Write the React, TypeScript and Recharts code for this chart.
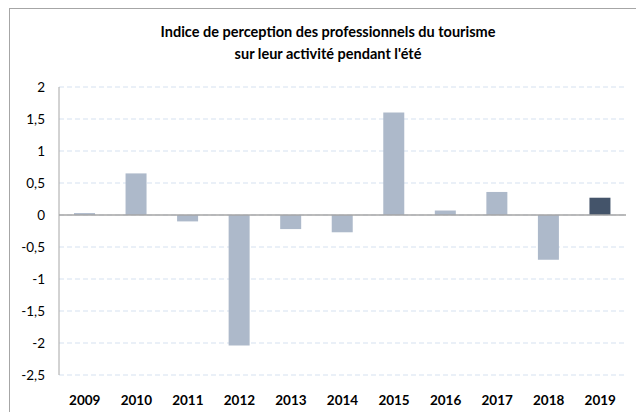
import { Bar, BarChart, CartesianGrid, Cell, ReferenceLine, XAxis, YAxis } from 'recharts';

const years = ['2009', '2010', '2011', '2012', '2013', '2014', '2015', '2016', '2017', '2018', '2019'];
const perceptionIndex = [0.03, 0.65, -0.1, -2.04, -0.22, -0.27, 1.6, 0.07, 0.36, -0.7, 0.27];
const yTicks = [-2.5, -2, -1.5, -1, -0.5, 0, 0.5, 1, 1.5, 2];
const titleLines = ['Indice de perception des professionnels du tourisme', "sur leur activité pendant l'été"];

const chartData = years.map((year, i) => ({ year, value: perceptionIndex[i] }));

const font = 'Lato, "DejaVu Sans", sans-serif';

export default function App() {
  return (
    <div
      style={{
        position: 'absolute',
        left: 0,
        top: 0,
        width: 636,
        height: 412,
        overflow: 'hidden',
        background: '#fff',
        fontFamily: font,
      }}
    >
      <div
        style={{
          position: 'absolute',
          left: 9,
          top: 8,
          width: 660,
          height: 440,
          border: '1px solid #a6a6a6',
        }}
      />
      <div
        style={{
          position: 'absolute',
          left: 0,
          top: 21,
          width: 656,
          textAlign: 'center',
          fontWeight: 700,
          fontSize: 14.5,
          lineHeight: '22px',
          color: '#000',
        }}
      >
        {titleLines.map((line) => (
          <div key={line}>{line}</div>
        ))}
      </div>
      <div style={{ position: 'absolute', left: 0, top: 0 }}>
        <BarChart width={636} height={412} data={chartData} margin={{ top: 87, right: 10, bottom: 7, left: 9 }}>
          <CartesianGrid vertical={false} stroke="#d5e1f0" strokeDasharray="5 3" />
          <XAxis
            dataKey="year"
            axisLine={false}
            tickLine={false}
            tickSize={0}
            tickMargin={20}
            height={30}
            interval={0}
            tick={{ fill: '#000', fontSize: 13.5, fontWeight: 700, fontFamily: font }}
          />
          <YAxis
            domain={[-2.5, 2]}
            ticks={yTicks}
            width={50}
            interval={0}
            tickLine={false}
            tickSize={0}
            tickMargin={14}
            axisLine={{ stroke: '#a6a6a6' }}
            tickFormatter={(v: number) => String(v).replace('.', ',')}
            tick={{ fill: '#000', fontSize: 13.5, fontFamily: font }}
          />
          <ReferenceLine y={0} stroke="#a6a6a6" strokeWidth={1.5} />
          <Bar dataKey="value" barSize={21} isAnimationActive={false}>
            {chartData.map((entry) => (
              <Cell key={entry.year} fill={entry.year === '2019' ? '#44546a' : '#adb9ca'} />
            ))}
          </Bar>
        </BarChart>
      </div>
    </div>
  );
}
